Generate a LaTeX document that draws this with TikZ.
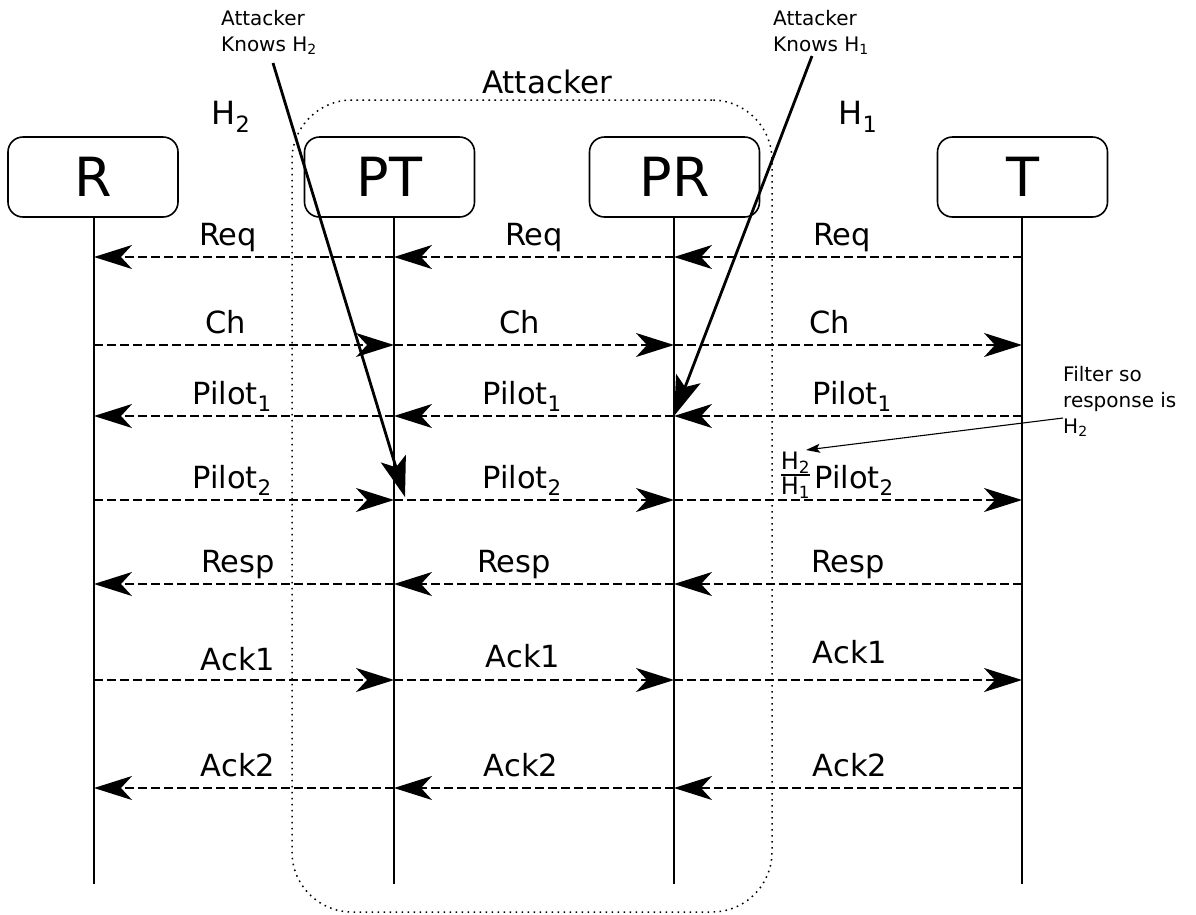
\documentclass[tikz,border=0pt]{standalone}
\usepackage{amsmath}
\usepackage{fontspec}
\setmainfont{DejaVu Sans}
\usetikzlibrary{arrows.meta,positioning}

\begin{document}
\begin{tikzpicture}[x=1pt,y=-1pt,
  actor/.style={draw, line width=1.6pt, rounded corners=15pt,
    minimum width=170pt, minimum height=80pt, inner sep=0pt,
    font=\fontsize{54}{54}\selectfont},
  life/.style={line width=1.9pt},
  msg/.style={line width=1.8pt, dash pattern=on 9pt off 4pt,
    -{Stealth[length=38pt,width=24pt,inset=11pt]}},
  lbl/.style={font=\fontsize{30.5}{30.5}\selectfont, anchor=base, yshift=12pt, inner sep=0pt},
  hlbl/.style={font=\fontsize{32}{32}\selectfont},
  note/.style={font=\fontsize{20}{26}\selectfont, align=left, inner sep=0pt},
  knows/.style={line width=2.8pt, -{Stealth[length=40pt,width=26pt,inset=9pt]}},
  hint/.style={line width=1.1pt, -{Stealth[length=14pt,width=9pt,inset=3pt]}},
  zone/.style={draw, line width=1.5pt, dash pattern=on 1.6pt off 4.4pt,
    rounded corners=60pt}
]
\useasboundingbox (0,0) rectangle (1196,914);

% attacker's zone
\node[zone, minimum width=480pt, minimum height=812pt] (zone) at (532,506) {};
\node[font=\fontsize{31}{31}\selectfont] (zonelbl) at (547,82) {Attacker};

% parties
\node[actor] (R)  at (93,177)    {R};
\node[actor] (PT) at (389.5,177) {PT};
\node[actor] (PR) at (674.5,177) {PR};
\node[actor] (T)  at (1022.5,177){T};

\node[hlbl] (h2) at (231,117) {H\textsubscript{2}};
\node[hlbl] (h1) at (858,117) {H\textsubscript{1}};

% lifelines and the points where messages meet them
\foreach \n/\x in {R/94,PT/394,PR/674,T/1022}{
  \coordinate (\n-top) at (\x,217);
  \coordinate (\n-end) at (\x,884);
  \draw[life] (\n-top) -- (\n-end);
  \foreach \r/\y in {1/257,2/345,3/416,4/500,5/584,6/680,7/788}
    \coordinate (\n\r) at (\x,\y);
}

% Req
\draw[msg] (T1) -- (PR1) node[lbl, midway, xshift=-6pt] {Req};
\draw[msg] (PR1) -- (PT1) node[lbl, midway] {Req};
\draw[msg] (PT1) -- (R1) node[lbl, midway, xshift=-16pt] {Req};
% Ch
\draw[msg] (R2) -- (PT2) node[lbl, midway, xshift=-18pt] {Ch};
\draw[msg] (PT2) -- (PR2) node[lbl, midway, xshift=-14pt] {Ch};
\draw[msg] (PR2) -- (T2) node[lbl, midway, xshift=-18pt] {Ch};
% Pilot 1
\draw[msg] (T3) -- (PR3) node[lbl, midway, xshift=4pt] {Pilot\textsubscript{1}};
\draw[msg] (PR3) -- (PT3) node[lbl, midway, xshift=-12pt] {Pilot\textsubscript{1}};
\draw[msg] (PT3) -- (R3) node[lbl, midway, xshift=-12pt] {Pilot\textsubscript{1}};
% Pilot 2
\draw[msg] (R4) -- (PT4) node[lbl, midway, xshift=-12pt] {Pilot\textsubscript{2}};
\draw[msg] (PT4) -- (PR4) node[lbl, midway, xshift=-12pt] {Pilot\textsubscript{2}};
\draw[msg] (PR4) -- (T4) node[lbl, midway, xshift=6pt] (p2r) {Pilot\textsubscript{2}};
\node[font=\fontsize{24}{24}\selectfont, inner sep=0pt, left=2pt of p2r, yshift=5pt] (scale)
  {$\genfrac{}{}{1.3pt}{1}{\mbox{H\textsubscript{2}}}{\mbox{H\textsubscript{1}}}$};
% Resp
\draw[msg] (T5) -- (PR5) node[lbl, midway] {Resp};
\draw[msg] (PR5) -- (PT5) node[lbl, midway, xshift=-20pt] {Resp};
\draw[msg] (PT5) -- (R5) node[lbl, midway, xshift=-6pt] {Resp};
% Ack 1
\draw[msg] (R6) -- (PT6) node[lbl, midway, xshift=-6pt, yshift=-2pt] {Ack1};
\draw[msg] (PT6) -- (PR6) node[lbl, midway, xshift=-11pt, yshift=1pt] {Ack1};
\draw[msg] (PR6) -- (T6) node[lbl, midway, xshift=2pt, yshift=5pt] {Ack1};
% Ack 2
\draw[msg] (T7) -- (PR7) node[lbl, midway, xshift=2pt] {Ack2};
\draw[msg] (PR7) -- (PT7) node[lbl, midway, xshift=-13pt] {Ack2};
\draw[msg] (PT7) -- (R7) node[lbl, midway, xshift=-6pt] {Ack2};

% what the attacker knows
\node[note, anchor=north west] (k2) at (221,10) {Attacker\\Knows H\textsubscript{2}};
\node[note, anchor=north west] (k1) at (773,10) {Attacker\\Knows H\textsubscript{1}};
\coordinate (k2tail) at (273,63);
\coordinate (k1tail) at (812,56);
\coordinate (k2tip) at (405,497);
\draw[knows] (k2tail) -- (k2tip);
\draw[knows] (k1tail) -- (PR3);

% filter remark
\node[note, anchor=north west] (filt) at (1063,366) {Filter so\\response is\\H\textsubscript{2}};
\coordinate (filttail) at (1063,418);
\coordinate (filttip) at (806,450);
\draw[hint] (filttail) -- (filttip);
\end{tikzpicture}
\end{document}
